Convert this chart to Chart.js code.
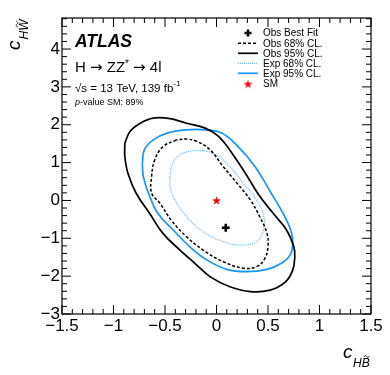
<!DOCTYPE html>
<html>
<head>
<meta charset="utf-8">
<script src="https://cdn.jsdelivr.net/npm/chart.js@4"></script>
<style>
  html, body { margin: 0; padding: 0; background: #fff; }
</style>
</head>
<body>
<canvas id="myChart" width="390" height="375"></canvas>
<script>
// contours: x = c_HB~, y = c_HW~
const obs95X = [-0.89, -0.84, -0.74, -0.615, -0.45, -0.29, -0.11, 0.02, 0.15, 0.28, 0.41, 0.55, 0.68, 0.75, 0.76, 0.74, 0.67, 0.52, 0.33, 0.13, -0.06, -0.21, -0.355, -0.52, -0.65, -0.78, -0.86, -0.89];
const obs95Y = [1.51, 1.82, 2.04, 2.175, 2.16, 2.04, 1.91, 1.69, 1.25, 0.72, 0.15, -0.34, -0.78, -1.22, -1.49, -1.84, -2.15, -2.37, -2.41, -2.28, -2.02, -1.66, -1.31, -0.87, -0.34, 0.19, 0.72, 1.16];

const exp95X = [-0.72, -0.70, -0.615, -0.48, -0.29, -0.11, 0.05, 0.21, 0.375, 0.54, 0.59, 0.68, 0.73, 0.74, 0.715, 0.63, 0.49, 0.29, 0.10, -0.095, -0.26, -0.42, -0.57, -0.66, -0.71];
const exp95Y = [0.98, 1.34, 1.60, 1.78, 1.865, 1.865, 1.78, 1.42, 0.89, 0.15, -0.07, -0.52, -0.87, -1.13, -1.44, -1.66, -1.82, -1.88, -1.82, -1.57, -1.22, -0.78, -0.34, 0.19, 0.63];

const obs68X = [-0.39, -0.52, -0.60, -0.63, -0.63, -0.55, -0.44, -0.29, -0.13, 0.066, 0.26, 0.39, 0.47, 0.50, 0.49, 0.42, 0.33, 0.20, 0.066, -0.063, -0.19, -0.29];
const obs68Y = [1.60, 1.42, 1.07, 0.63, 0.19, -0.07, -0.52, -0.96, -1.31, -1.62, -1.79, -1.75, -1.53, -1.22, -0.87, -0.43, 0.01, 0.455, 0.89, 1.34, 1.56, 1.62];

const exp68X = [-0.13, -0.26, -0.37, -0.43, -0.45, -0.45, -0.41, -0.29, -0.13, 0.066, 0.23, 0.39, 0.455, 0.46, 0.39, 0.26, 0.13, 0.0];
const exp68Y = [1.32, 1.30, 1.18, 0.95, 0.65, 0.35, 0.05, -0.43, -0.825, -1.09, -1.18, -1.09, -0.78, -0.43, 0.01, 0.455, 0.89, 1.20];

const bestFit = [0.09, -0.72];
const smPoint = [0, 0];

const xMin = -1.5, xMax = 1.5;
const yMin = -3, yMax = 4.82;

const FONT = "'Liberation Sans', Arial, Helvetica, sans-serif";
const ARROW_FONT = "'DejaVu Sans', sans-serif";
const BLUE = "rgb(20,150,250)";
const LIGHTBLUE = "rgb(110,185,250)";

function loop(xs, ys) {
  const pts = xs.map((x, i) => ({ x: x, y: ys[i] }));
  pts.push(pts[0]);
  return pts;
}

// filled red star like ROOT marker 29
function makeStar(size, color) {
  const c = document.createElement("canvas");
  c.width = size; c.height = size;
  const g = c.getContext("2d");
  const cx = size / 2, cy = size / 2 + 0.4, R = size / 2, r = R * 0.42;
  g.beginPath();
  for (let i = 0; i < 10; i++) {
    const a = -Math.PI / 2 + i * Math.PI / 5;
    const rr = i % 2 === 0 ? R : r;
    g.lineTo(cx + rr * Math.cos(a), cy + rr * Math.sin(a));
  }
  g.closePath();
  g.fillStyle = color;
  g.fill();
  return c;
}
const starImg = makeStar(9, "#f00");

function fmt(v) {
  return String(Math.round(v * 10) / 10).replace("-", "\u2212");
}

function drawTilde(ctx, x, y, w) {
  ctx.beginPath();
  ctx.moveTo(x - w / 2, y + 0.6);
  ctx.bezierCurveTo(x - w / 4, y - 1.6, x - w / 8, y - 0.8, x, y);
  ctx.bezierCurveTo(x + w / 8, y + 0.8, x + w / 4, y + 1.6, x + w / 2, y - 0.6);
  ctx.stroke();
}

const atlasDecor = {
  id: "atlasDecor",
  afterDraw(chart) {
    const ctx = chart.ctx;
    const { left, right, top, bottom } = chart.chartArea;
    const xs = chart.scales.x;
    const ys = chart.scales.y;
    ctx.save();

    // frame
    ctx.strokeStyle = "#000";
    ctx.lineWidth = 1.2;
    ctx.strokeRect(left, top, right - left, bottom - top);

    // inward ticks on all sides
    ctx.lineWidth = 1;
    ctx.beginPath();
    for (let i = 0; i <= 30; i++) {
      const px = xs.getPixelForValue(xMin + i * 0.1);
      const len = i % 5 === 0 ? 9 : 5;
      ctx.moveTo(px, bottom); ctx.lineTo(px, bottom - len);
      ctx.moveTo(px, top); ctx.lineTo(px, top + len);
    }
    for (let i = 0; yMin + i * 0.2 <= yMax + 1e-9; i++) {
      const py = ys.getPixelForValue(yMin + i * 0.2);
      const len = i % 5 === 0 ? 9 : 5;
      ctx.moveTo(left, py); ctx.lineTo(left + len, py);
      ctx.moveTo(right, py); ctx.lineTo(right - len, py);
    }
    ctx.stroke();

    ctx.fillStyle = "#000";
    ctx.textBaseline = "alphabetic";
    ctx.textAlign = "left";

    // labels inside the frame
    ctx.font = "italic bold 17.5px " + FONT;
    ctx.fillText("ATLAS", 75, 47);

    // H -> ZZ* -> 4l, pieces placed one after the other
    const parts = [
      ["H ", "15px " + FONT, 0],
      ["\u2192", "15px " + ARROW_FONT, 0],
      [" ZZ", "15px " + FONT, 0],
      ["*", "10px " + FONT, -5],
      [" ", "15px " + FONT, 0],
      ["\u2192", "15px " + ARROW_FONT, 0],
      [" 4l", "15px " + FONT, 0],
    ];
    let px0 = 75;
    parts.forEach(([s, f, dy]) => {
      ctx.font = f;
      ctx.fillText(s, px0, 72 + dy);
      px0 += ctx.measureText(s).width;
    });

    ctx.font = "11.5px " + FONT;
    let t = "\u221As = 13 TeV, 139 fb";
    ctx.fillText(t, 75, 91.5);
    let w = ctx.measureText(t).width;
    ctx.font = "8px " + FONT;
    ctx.fillText("-1", 75 + w, 86);

    ctx.font = "italic 9px " + FONT;
    ctx.fillText("p", 75, 105);
    w = ctx.measureText("p").width;
    ctx.font = "9px " + FONT;
    ctx.fillText("-value SM: 89%", 75 + w, 105);

    // axis titles
    ctx.lineWidth = 0.9;
    ctx.strokeStyle = "#000";
    ctx.font = "italic 19px " + FONT;
    ctx.fillText("c", 343, 358);
    ctx.font = "italic 12px " + FONT;
    ctx.fillText("H", 353, 367);
    const hw = ctx.measureText("H").width;
    ctx.fillText("B", 353 + hw, 367);
    const bw = ctx.measureText("B").width;
    drawTilde(ctx, 353 + hw + bw / 2 + 1, 356.5, 6);

    ctx.save();
    ctx.translate(20, 50);
    ctx.rotate(-Math.PI / 2);
    ctx.font = "italic 19px " + FONT;
    ctx.fillText("c", 0, 0);
    const cw = ctx.measureText("c").width;
    ctx.font = "italic 12px " + FONT;
    ctx.fillText("H", cw + 1, 8);
    const hw2 = ctx.measureText("H").width;
    ctx.fillText("W", cw + 1 + hw2, 8);
    const ww = ctx.measureText("W").width;
    drawTilde(ctx, cw + 1 + hw2 + ww / 2 + 1, -3, 6);
    ctx.restore();

    // legend
    const lx0 = 238, lx1 = 258, tx = 263;
    const rows = [33, 43.3, 53.3, 63.3, 73.3, 84];
    ctx.font = "10px " + FONT;
    ctx.textBaseline = "middle";
    chart.data.datasets.forEach((ds) => {
      const yy = rows[ds.legendRow];
      const cx = (lx0 + lx1) / 2;
      if (ds.legendType === "line") {
        ctx.save();
        ctx.strokeStyle = ds.borderColor;
        ctx.lineWidth = ds.borderWidth;
        ctx.setLineDash(ds.borderDash || []);
        ctx.beginPath();
        ctx.moveTo(lx0, yy); ctx.lineTo(lx1, yy);
        ctx.stroke();
        ctx.restore();
      } else if (ds.legendType === "cross") {
        ctx.save();
        ctx.strokeStyle = "#000";
        ctx.lineWidth = 2.4;
        ctx.beginPath();
        ctx.moveTo(cx - 3.5, yy); ctx.lineTo(cx + 3.5, yy);
        ctx.moveTo(cx, yy - 3.5); ctx.lineTo(cx, yy + 3.5);
        ctx.stroke();
        ctx.restore();
      } else if (ds.legendType === "star") {
        ctx.drawImage(starImg, cx - 4.5, yy - 4.5);
      }
      ctx.fillStyle = "#000";
      ctx.fillText(ds.label, tx, yy + 0.5);
    });

    ctx.restore();
  },
};

const ctx = document.getElementById("myChart").getContext("2d");

const myChart = new Chart(ctx, {
  type: "scatter",
  data: {
    datasets: [
      {
        label: "Obs Best Fit",
        legendType: "cross",
        legendRow: 0,
        data: [{ x: bestFit[0], y: bestFit[1] }],
        pointStyle: "cross",
        pointRadius: 4,
        borderColor: "#000",
        borderWidth: 2.6,
        showLine: false,
      },
      {
        label: "SM",
        legendType: "star",
        legendRow: 5,
        data: [{ x: smPoint[0], y: smPoint[1] }],
        pointStyle: starImg,
        pointRadius: 4.5,
        showLine: false,
      },
      {
        label: "Obs 68% CL.",
        legendType: "line",
        legendRow: 1,
        data: loop(obs68X, obs68Y),
        borderColor: "#000",
        borderWidth: 1.5,
        borderDash: [3, 2],
      },
      {
        label: "Obs 95% CL.",
        legendType: "line",
        legendRow: 2,
        data: loop(obs95X, obs95Y),
        borderColor: "#000",
        borderWidth: 1.7,
      },
      {
        label: "Exp 68% CL.",
        legendType: "line",
        legendRow: 3,
        data: loop(exp68X, exp68Y),
        borderColor: LIGHTBLUE,
        borderWidth: 1.3,
        borderDash: [1, 1],
      },
      {
        label: "Exp 95% CL.",
        legendType: "line",
        legendRow: 4,
        data: loop(exp95X, exp95Y),
        borderColor: BLUE,
        borderWidth: 1.7,
      },
    ].map((ds) =>
      ds.legendType === "line"
        ? Object.assign(ds, { showLine: true, pointRadius: 0, tension: 0.4, fill: false })
        : ds
    ),
  },
  options: {
    responsive: false,
    animation: false,
    layout: { padding: { top: 18, right: 19, left: 0, bottom: 0 } },
    plugins: {
      legend: { display: false },
      tooltip: { enabled: false },
    },
    scales: {
      x: {
        type: "linear",
        min: xMin,
        max: xMax,
        grid: { display: false, drawTicks: false },
        border: { display: false },
        ticks: {
          stepSize: 0.5,
          padding: 2,
          maxRotation: 0,
          autoSkip: false,
          color: "#000",
          font: { family: FONT, size: 17 },
          callback: (v) => fmt(v),
        },
        afterFit: (s) => { s.height = 61; },
      },
      y: {
        type: "linear",
        min: yMin,
        max: yMax,
        grid: { display: false, drawTicks: false },
        border: { display: false },
        ticks: {
          stepSize: 1,
          includeBounds: false,
          padding: 2,
          autoSkip: false,
          color: "#000",
          font: { family: FONT, size: 17 },
          callback: (v) => fmt(v),
        },
        afterFit: (s) => { s.width = 62; },
      },
    },
  },
  plugins: [atlasDecor],
});
</script>
</body>
</html>
